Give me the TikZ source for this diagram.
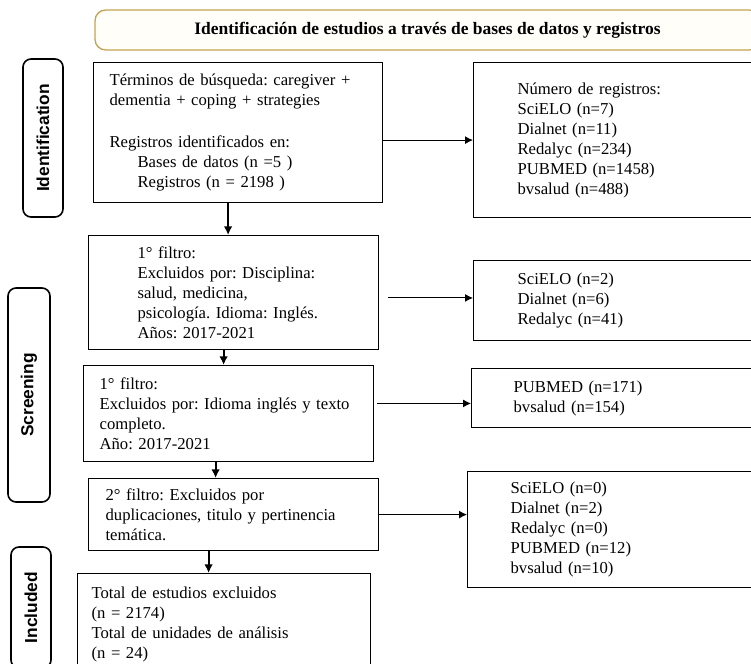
\documentclass[tikz,border=0pt]{standalone}
\usepackage{fontspec}
\setmainfont{Liberation Serif}
\setsansfont{Liberation Sans}
\usetikzlibrary{arrows.meta}
\definecolor{gold}{RGB}{196,163,82}
\definecolor{cream}{RGB}{255,254,248}
\frenchspacing

\begin{document}
\begin{tikzpicture}[x=0.75pt, y=-0.75pt,
    box/.style = {draw, line width=0.9pt, anchor=north west, align=left, font=\fontsize{12.5}{15}\selectfont},
    phase/.style = {draw, line width=1.2pt, rounded corners=6pt, rotate=90, inner sep=0pt, font=\sffamily\bfseries\fontsize{13}{15}\selectfont},
    arr/.style = {-{Latex[length=6pt,width=6pt]}, line width=0.8pt},
    down/.style = {-{Latex[length=6.5pt,width=6.5pt]}, line width=1.4pt}]
	\useasboundingbox (0,0) rectangle (751,664);
	\clip (0,0) rectangle (751,664);
	% header
	\node[draw=gold, fill=cream, line width=1pt, rounded corners=8pt, minimum width=498.75pt, minimum height=30pt, font=\bfseries\fontsize{13.1}{15}\selectfont] (head) at (427.5,30) {Identificación de estudios a través de bases de datos y registros};
	% phases
	\node[phase, minimum width=118.5pt, minimum height=30pt] (ident) at (43,138) {Identification};
	\node[phase, minimum width=160.5pt, minimum height=31.5pt] (screen) at (29,395) {Screening};
	\node[phase, minimum width=90.75pt, minimum height=30pt] (incl) at (31,607.5) {Included};
	% left column
	\node[box, text width=192.75pt, inner xsep=12pt, minimum height=105pt] (busq) at (93,62) {Términos de búsqueda: caregiver +\\
		dementia + coping + strategies\\[16pt]
		Registros identificados en:\\
		\hspace*{21pt}Bases de datos (n =5 )\\
		\hspace*{21pt}Registros (n = 2198 )};
	\node[box, text width=144pt, inner xsep=36.75pt, minimum height=85.5pt] (filt1) at (88,235) {1° filtro:\\
		Excluidos por: Disciplina:\\
		salud, medicina,\\
		psicología. Idioma: Inglés.\\
		Años: 2017-2021};
	\node[box, text width=193.5pt, inner xsep=12pt, minimum height=72pt] (filt2) at (83,365) {1° filtro:\\
		Excluidos por: Idioma inglés y texto\\
		completo.\\
		Año: 2017-2021};
	\node[box, text width=192pt, inner xsep=12.75pt, minimum height=54pt] (filt3) at (88,478) {2° filtro: Excluidos por\\
		duplicaciones, titulo y pertinencia\\
		temática.};
	\node[box, text width=198.75pt, inner xsep=10.5pt, minimum height=76.5pt] (total) at (77,573) {Total de estudios excluidos\\
		(n = 2174)\\
		Total de unidades de análisis\\
		(n = 24)};
	% right column
	\node[box, text width=159pt, inner xsep=33pt, minimum height=116.25pt] (reg) at (473,62) {Número de registros:\\
		SciELO (n=7)\\
		Dialnet (n=11)\\
		Redalyc (n=234)\\
		PUBMED (n=1458)\\
		bvsalud (n=488)};
	\node[box, text width=159pt, inner xsep=33pt, minimum height=60pt] (exc1) at (473,260) {SciELO (n=2)\\
		Dialnet (n=6)\\
		Redalyc (n=41)};
	\node[box, text width=162pt, inner xsep=31.5pt, minimum height=44.25pt] (exc2) at (471,368) {PUBMED (n=171)\\
		bvsalud (n=154)};
	\node[box, text width=160.5pt, inner xsep=32.25pt, minimum height=87pt] (exc3) at (467,471) {SciELO (n=0)\\
		Dialnet (n=2)\\
		Redalyc (n=0)\\
		PUBMED (n=12)\\
		bvsalud (n=10)};
	% arrows
	\draw[down] ([xshift=-7.5pt]busq.south) -- ([xshift=-7.5pt]busq.south |- filt1.north);
	\draw[down] ([xshift=-7.5pt]filt1.south) -- ([xshift=-7.5pt]filt1.south |- filt2.north);
	\draw[down] ([xshift=-9.75pt]filt2.south) -- ([xshift=-9.75pt]filt2.south |- filt3.north);
	\draw[down] ([xshift=-18.75pt]filt3.south) -- ([xshift=-18.75pt]filt3.south |- total.north);
	\draw[arr] (reg.west -| busq.east) -- (reg.west);
	\draw[arr, shorten <=6.75pt] ([yshift=2pt]exc1.west -| filt1.east) -- ([yshift=2pt]exc1.west);
	\draw[arr, shorten <=2pt] ([yshift=-4pt]exc2.west -| filt2.east) -- ([yshift=-4pt]exc2.west);
	\draw[arr] (filt3.east) -- (filt3.east -| exc3.west);
\end{tikzpicture}
\end{document}
